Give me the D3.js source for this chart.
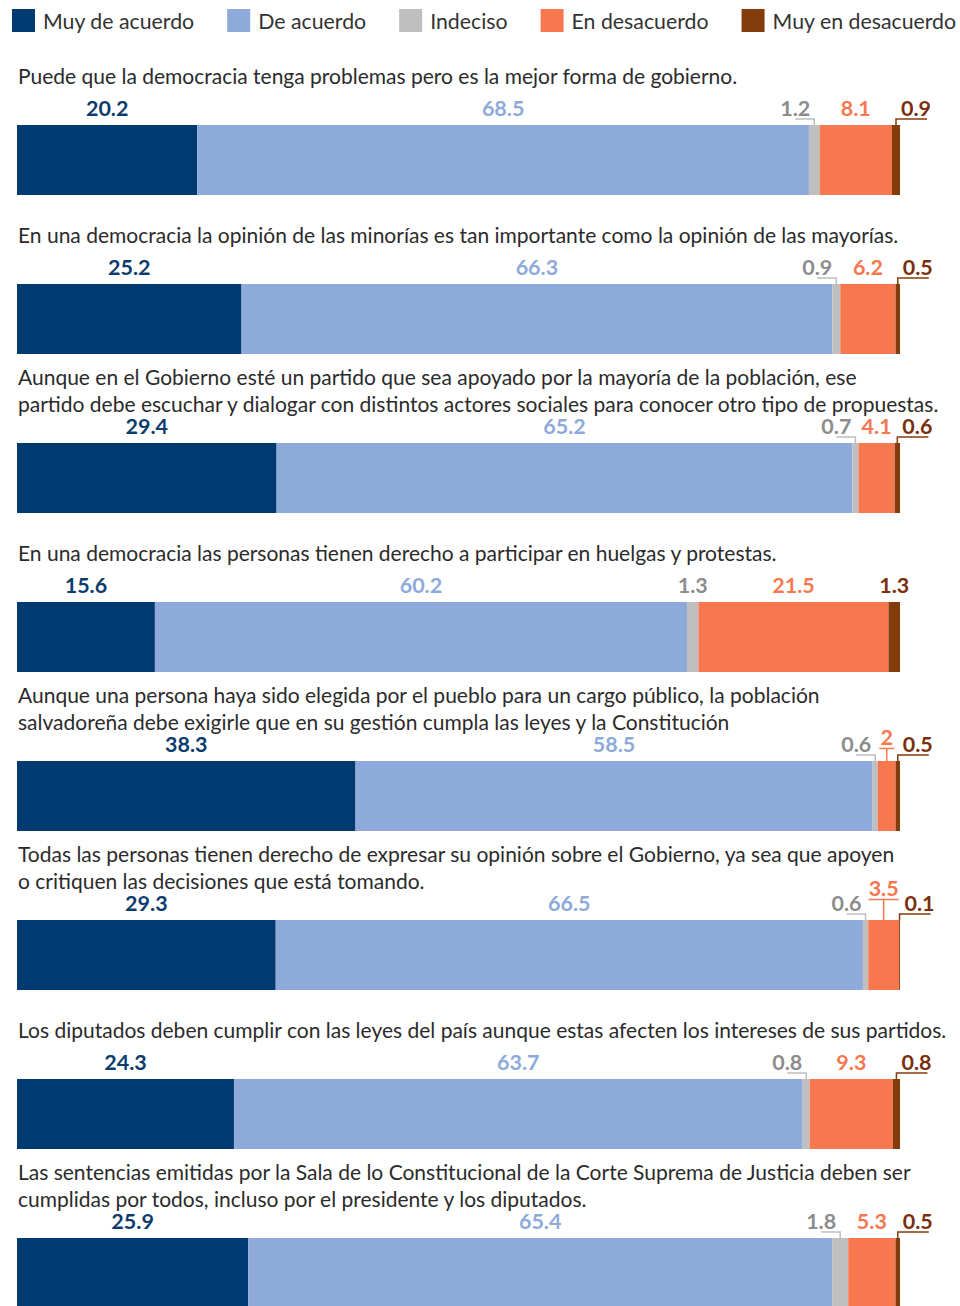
<!DOCTYPE html>
<html>
<head>
<meta charset="utf-8">
<script src="https://cdn.jsdelivr.net/npm/d3@7"></script>
<style>
  body { margin: 0; background: #fff; }
  svg { display: block; font-family: Lato, "Open Sans", sans-serif; }
</style>
</head>
<body>
<script>
// categories of the scale
const categories = ["Muy de acuerdo", "De acuerdo", "Indeciso", "En desacuerdo", "Muy en desacuerdo"];
const colors = ["#003a70", "#8eaadb", "#bfbfbf", "#f7774f", "#843c0c"];
const labelColors = ["#0b3c6d", "#8eaadb", "#8c8c8c", "#f7774f", "#7a2f0e"];

// statements (one per bar), already broken in lines
const statements = [
  ["Puede que la democracia tenga problemas pero es la mejor forma de gobierno."],
  ["En una democracia la opinión de las minorías es tan importante como la opinión de las mayorías."],
  ["Aunque en el Gobierno esté un partido que sea apoyado por la mayoría de la población, ese",
   "partido debe escuchar y dialogar con distintos actores sociales para conocer otro tipo de propuestas."],
  ["En una democracia las personas tienen derecho a participar en huelgas y protestas."],
  ["Aunque una persona haya sido elegida por el pueblo para un cargo público, la población",
   "salvadoreña debe exigirle que en su gestión cumpla las leyes y la Constitución"],
  ["Todas las personas tienen derecho de expresar su opinión sobre el Gobierno, ya sea que apoyen",
   "o critiquen las decisiones que está tomando."],
  ["Los diputados deben cumplir con las leyes del país aunque estas afecten los intereses de sus partidos."],
  ["Las sentencias emitidas por la Sala de lo Constitucional de la Corte Suprema de Justicia deben ser",
   "cumplidas por todos, incluso por el presidente y los diputados."]
];

// percentages
const muyDeAcuerdo    = [20.2, 25.2, 29.4, 15.6, 38.3, 29.3, 24.3, 25.9];
const deAcuerdo       = [68.5, 66.3, 65.2, 60.2, 58.5, 66.5, 63.7, 65.4];
const indeciso        = [1.2, 0.9, 0.7, 1.3, 0.6, 0.6, 0.8, 1.8];
const enDesacuerdo    = [8.1, 6.2, 4.1, 21.5, 2, 3.5, 9.3, 5.3];
const muyEnDesacuerdo = [0.9, 0.5, 0.6, 1.3, 0.5, 0.1, 0.8, 0.5];

let width = 960, height = 1306;
let barLeft = 17, barRight = 900, barH = 70;

let rows = statements.map(function(s, i) {
  return {
    i: i,
    lines: s,
    "Muy de acuerdo": muyDeAcuerdo[i],
    "De acuerdo": deAcuerdo[i],
    "Indeciso": indeciso[i],
    "En desacuerdo": enDesacuerdo[i],
    "Muy en desacuerdo": muyEnDesacuerdo[i]
  };
});

let series = d3.stack().keys(categories)(rows);

let y = d3.scaleLinear().domain([0, rows.length - 1]).range([125, 1238]);

let svg = d3.select("body").append("svg").attr("width", width).attr("height", height);

//legend
let legend = svg.append("g").attr("class", "legend");
let lx = 12;
categories.forEach(function(c, k) {
  legend.append("rect").attr("x", lx).attr("y", 9).attr("width", 23).attr("height", 23).attr("fill", colors[k]);
  let t = legend.append("text").attr("x", lx + 31).attr("y", 28.5).attr("font-size", 21.3).attr("fill", "#333").text(c);
  lx += 31 + t.node().getComputedTextLength() + 33;
});

rows.forEach(function(row) {
  let i = row.i;
  let top = y(i);
  let total = d3.sum(categories, function(c) { return row[c]; });
  let x = d3.scaleLinear().domain([0, total]).range([barLeft, barRight]);
  let g = svg.append("g").attr("class", "row");

  // title
  let nl = row.lines.length;
  let firstBase = nl > 1 ? top - 58 : top - 41;
  row.lines.forEach(function(line, j) {
    g.append("text").attr("x", 18).attr("y", firstBase + j * 26.5)
      .attr("font-size", 21).attr("fill", "#2b2b2b").text(line);
  });

  // segments
  let segs = series.map(function(s, k) {
    let d = s[i];
    return { k: k, v: row[categories[k]], x0: x(d[0]), x1: x(d[1]) };
  });

  g.selectAll(".seg").data(segs).enter().append("rect").attr("class", "seg")
    .attr("x", function(d) { return d.x0; })
    .attr("y", top)
    .attr("width", function(d) { return Math.max(0.8, d.x1 - d.x0); })
    .attr("height", barH)
    .attr("fill", function(d) { return colors[d.k]; });

  // labels
  let crowded = (segs[3].x1 - segs[3].x0) < 100;
  segs.forEach(function(d) {
    let cx = (d.x0 + d.x1) / 2;
    let base = top - 9;
    let t = g.append("text").attr("font-size", 21.5).attr("font-weight", "bold")
      .attr("fill", labelColors[d.k]).text(String(d.v));
    let w = t.node().getComputedTextLength();

    if (crowded && d.k == 2) {
      // to the left, with leader
      t.attr("x", cx - 4).attr("y", base).attr("text-anchor", "end");
      g.append("path").attr("fill", "none").attr("stroke", colors[2]).attr("stroke-width", 1.5)
        .attr("d", "M" + (cx - 4 - w / 2) + "," + (top - 6) + "H" + cx + "V" + top);
    } else if (crowded && d.k == 4) {
      t.attr("x", cx + 5).attr("y", base).attr("text-anchor", "start");
      g.append("path").attr("fill", "none").attr("stroke", colors[4]).attr("stroke-width", 1.5)
        .attr("d", "M" + (cx + 1 + w) + "," + (top - 6) + "H" + cx + "V" + top);
    } else if (crowded && d.k == 3 && (d.x1 - d.x0) < 34) {
      // raise it with a T leader
      let raise = (w + 4 > d.x1 - d.x0) ? 15 : 7;
      let b = base - raise;
      t.attr("x", cx).attr("y", b).attr("text-anchor", "middle");
      let tw = Math.max(w, 15);
      g.append("path").attr("fill", "none").attr("stroke", colors[3]).attr("stroke-width", 1.5)
        .attr("d", "M" + (cx - tw / 2) + "," + (b + 3.5) + "H" + (cx + tw / 2) +
          "M" + cx + "," + (b + 3.5) + "V" + top);
    } else {
      t.attr("x", cx).attr("y", base).attr("text-anchor", "middle");
    }
  });
});
</script>
</body>
</html>
